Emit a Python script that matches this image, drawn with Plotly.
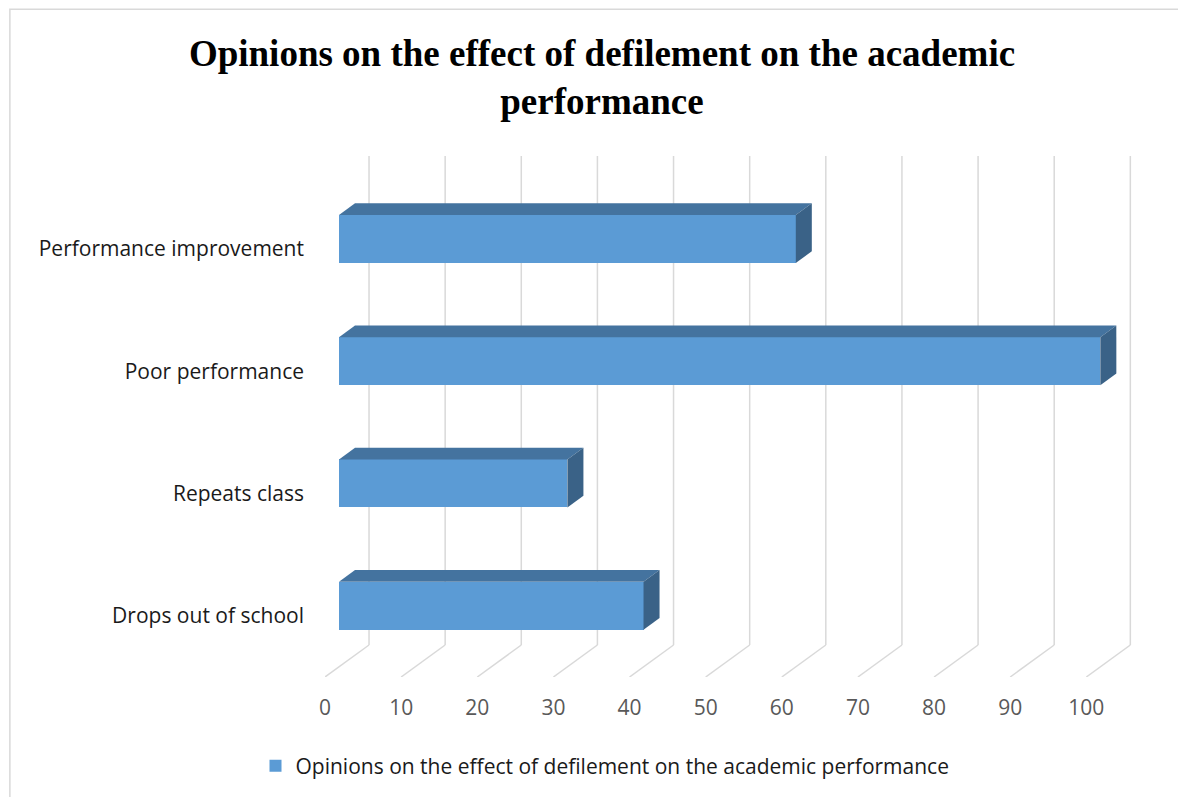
import plotly.graph_objects as go

# ---- data ----
categories = ["Drops out of school", "Repeats class", "Poor performance", "Performance improvement"]
values = [40, 30, 100, 60]
x_ticks = [0, 10, 20, 30, 40, 50, 60, 70, 80, 90, 100]
series_name = "Opinions on the effect of defilement on the academic performance"
title_text = "<b>Opinions on the effect of defilement on the academic<br>performance</b>"

# ---- 3D projection settings (axis units) ----
W, H = 1178, 797
L_M, B_M = 325, 120
PX_X = 7.61          # px per value unit
PX_Y = 122.3         # px per category step
DX = 44 / PX_X       # depth shift in x units (front floor -> back wall)
DY = 32 / PX_Y       # depth shift in y units
Z0, Z1 = 0.318, 0.682  # bar depth span
BAR_H = 48 / PX_Y

x_range = [0, 106]
y_range = [-0.5, len(categories) - 0.5 + DY]
plot_w = (x_range[1] - x_range[0]) * PX_X
plot_h = (y_range[1] - y_range[0]) * PX_Y
R_M = W - L_M - plot_w
T_M = H - B_M - plot_h

FRONT = "#5B9BD5"
TOP = "#44739F"
SIDE = "#3A6287"
GRID = "#D9D9D9"

fig = go.Figure()

# back-wall gridlines and floor lines (drawn below the bars)
shapes = []
for v in x_ticks:
    shapes.append(dict(type="line", xref="x", yref="y", x0=v + DX, x1=v + DX,
                       y0=y_range[0] + DY, y1=y_range[1],
                       line=dict(color=GRID, width=1.5), layer="below"))
    shapes.append(dict(type="line", xref="x", yref="y", x0=v, x1=v + DX,
                       y0=y_range[0], y1=y_range[0] + DY,
                       line=dict(color=GRID, width=1.5), layer="below"))

# chart border
shapes.append(dict(type="rect", xref="paper", yref="paper",
                   x0=(10 - L_M) / plot_w, x1=(W + 20 - L_M) / plot_w,
                   y0=-(B_M + 20) / plot_h, y1=(H - 9 - B_M) / plot_h,
                   line=dict(color="#D9D9D9", width=1.5), fillcolor="rgba(0,0,0,0)", layer="below"))

# front faces via bars
fig.add_trace(go.Bar(
    y=[i + Z0 * DY for i in range(len(categories))],
    x=values, base=Z0 * DX, orientation="h", width=BAR_H,
    marker=dict(color=FRONT, line=dict(width=0)), name=series_name, showlegend=True,
))

# top and side faces
dzx, dzy = (Z1 - Z0) * DX, (Z1 - Z0) * DY
for i, v in enumerate(values):
    yc = i + Z0 * DY
    yt, yb = yc + BAR_H / 2, yc - BAR_H / 2
    x0, x1 = Z0 * DX, v + Z0 * DX
    fig.add_trace(go.Scatter(x=[x0, x1, x1 + dzx, x0 + dzx, x0], y=[yt, yt, yt + dzy, yt + dzy, yt],
                             fill="toself", fillcolor=TOP, mode="lines", line=dict(width=0, color=TOP),
                             hoverinfo="skip", showlegend=False))
    fig.add_trace(go.Scatter(x=[x1, x1, x1 + dzx, x1 + dzx, x1], y=[yb, yt, yt + dzy, yb + dzy, yb],
                             fill="toself", fillcolor=SIDE, mode="lines", line=dict(width=0, color=SIDE),
                             hoverinfo="skip", showlegend=False))

fig.update_layout(
    width=W, height=H,
    margin=dict(l=L_M, r=R_M, t=T_M, b=B_M, autoexpand=False),
    paper_bgcolor="white", plot_bgcolor="white",
    title=dict(text=title_text, x=602 / W, xanchor="center", xref="container",
               y=1 - 66 / H, yanchor="top", yref="container",
               font=dict(family="Liberation Serif", size=37, color="black")),
    xaxis=dict(range=x_range, tickvals=x_ticks, ticktext=[str(t) for t in x_ticks],
               showgrid=False, zeroline=False, showline=False, ticks="",
               ticklabelstandoff=16,
               tickfont=dict(family="Open Sans", size=21, color="#595959")),
    yaxis=dict(range=y_range, tickvals=list(range(len(categories))), ticktext=categories,
               showgrid=False, zeroline=False, showline=False, ticks="",
               ticklabelstandoff=20,
               tickfont=dict(family="Open Sans", size=21, color="#1a1a1a")),
    legend=dict(orientation="h", x=605 / W, xanchor="center", xref="container",
                y=1 - 766 / H, yanchor="middle", yref="container",
                font=dict(family="Open Sans", size=21, color="#1a1a1a"),
                itemwidth=30),
    shapes=shapes,
    bargap=0,
)

fig.write_html("out.html")
